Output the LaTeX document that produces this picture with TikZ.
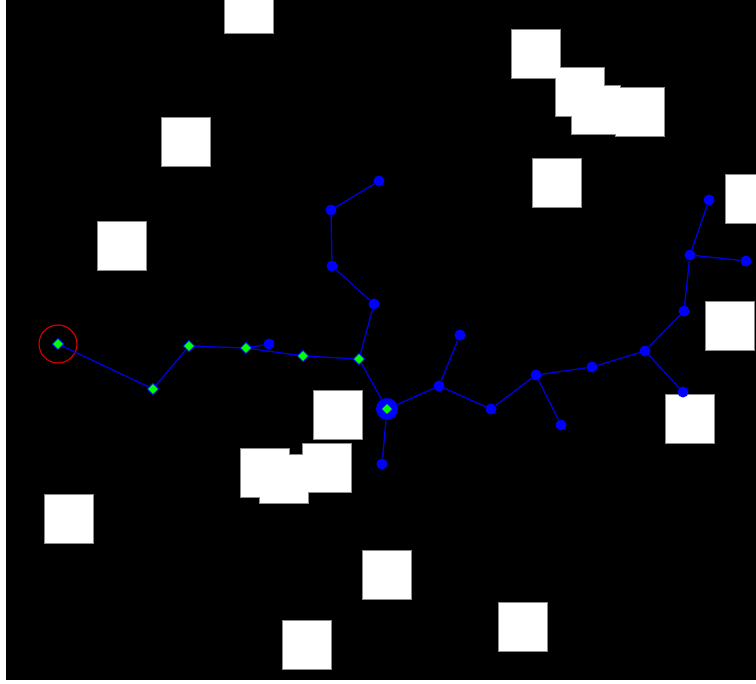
\documentclass[tikz,border=0pt]{standalone}
\usetikzlibrary{shapes.geometric}
\definecolor{treeblue}{RGB}{0,0,255}
\definecolor{edgeblue}{RGB}{0,0,225}
\definecolor{pathgreen}{RGB}{0,255,0}
\definecolor{startred}{RGB}{205,0,0}
\definecolor{obsedge}{RGB}{140,140,140}

\begin{document}
\begin{tikzpicture}[
  x=0.02cm,y=-0.02cm,
  vertex/.style={circle,fill=treeblue,inner sep=0pt,minimum size=0.22cm},
  pathnode/.style={diamond,fill=pathgreen,draw=treeblue,line width=0.5pt,
                   inner sep=0pt,minimum size=0.24cm},
  goalring/.style={circle,fill=treeblue,inner sep=0pt,minimum size=0.44cm},
  startring/.style={circle,draw=startred,line width=0.7pt,inner sep=0pt,minimum size=0.76cm},
  edge/.style={edgeblue,line width=0.75pt},
]
  \useasboundingbox (0,0) rectangle (756,683);
  \fill[white] (0,0) rectangle (756,683);
  \fill[black] (6,0) rectangle (756,680);

  % obstacles
  \begin{scope}
    \clip (6,0) rectangle (756,680);
    \foreach \xa/\ya in {225/-15,162/118,98/222,512/30,556/68,572/86,616/88,533/159,
                         726/175,706/302,314/391,241/449,260/455,303/444,45/495,
                         363/551,283/621,666/395,499/603}
      \draw[obsedge,line width=1pt] (\xa,\ya) rectangle ++(48,48);
    \foreach \xa/\ya in {225/-15,162/118,98/222,512/30,556/68,572/86,616/88,533/159,
                         726/175,706/302,314/391,241/449,260/455,303/444,45/495,
                         363/551,283/621,666/395,499/603}
      \fill[white] (\xa,\ya) rectangle ++(48,48);
  \end{scope}

  % tree vertices
  \node[vertex] (b1) at (269,344) {};
  \node[vertex] (b2) at (374,304) {};
  \node[vertex] (b3) at (332,266) {};
  \node[vertex] (b4) at (331,210) {};
  \node[vertex] (b5) at (379,181) {};
  \node[vertex] (b6) at (382,464) {};
  \node[vertex] (b7) at (439,386) {};
  \node[vertex] (b8) at (460,335) {};
  \node[vertex] (b9) at (491,409) {};
  \node[vertex] (b10) at (536,375) {};
  \node[vertex] (b11) at (561,425) {};
  \node[vertex] (b12) at (592,367) {};
  \node[vertex] (b13) at (645,351) {};
  \node[vertex] (b14) at (683,392) {};
  \node[vertex] (b15) at (684,311) {};
  \node[vertex] (b16) at (690,255) {};
  \node[vertex] (b17) at (709,200) {};
  \node[vertex] (b18) at (746,261) {};
  \node[goalring] (goalring) at (387,409) {};

  % solution path
  \node[pathnode] (start) at (58,344) {};
  \node[pathnode] (p1) at (153,389) {};
  \node[pathnode] (p2) at (189,346) {};
  \node[pathnode] (p3) at (246,348) {};
  \node[pathnode] (p4) at (303,356) {};
  \node[pathnode] (p5) at (359,359) {};
  \node[pathnode] (goal) at (goalring) {};
  \node[startring] (startring) at (start) {};

  \draw[edge] (start) -- (p1);
  \draw[edge] (p1) -- (p2);
  \draw[edge] (p2) -- (p3);
  \draw[edge] (p3) -- (b1);
  \draw[edge] (p3) -- (p4);
  \draw[edge] (p4) -- (p5);
  \draw[edge] (p5) -- (b2);
  \draw[edge] (b2) -- (b3);
  \draw[edge] (b3) -- (b4);
  \draw[edge] (b4) -- (b5);
  \draw[edge] (p5) -- (goalring);
  \draw[edge] (goalring) -- (b6);
  \draw[edge] (goalring) -- (b7);
  \draw[edge] (b7) -- (b8);
  \draw[edge] (b7) -- (b9);
  \draw[edge] (b9) -- (b10);
  \draw[edge] (b10) -- (b11);
  \draw[edge] (b10) -- (b12);
  \draw[edge] (b12) -- (b13);
  \draw[edge] (b13) -- (b14);
  \draw[edge] (b13) -- (b15);
  \draw[edge] (b15) -- (b16);
  \draw[edge] (b16) -- (b17);
  \draw[edge] (b16) -- (b18);
\end{tikzpicture}
\end{document}
